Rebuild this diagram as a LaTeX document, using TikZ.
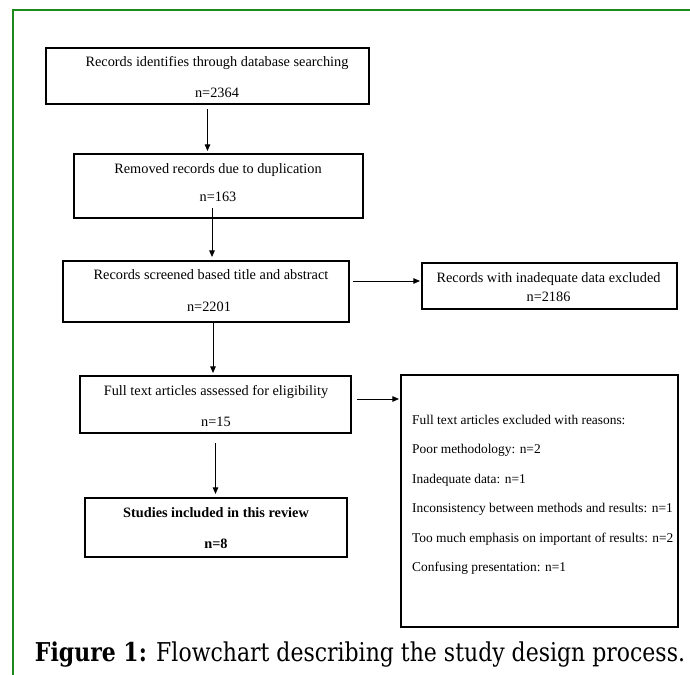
\documentclass[tikz,border=0pt]{standalone}
\usepackage{fontspec}
\setmainfont{Liberation Serif}
\newfontfamily\capfont{DejaVu Serif}
\usetikzlibrary{arrows.meta}
\definecolor{framegreen}{RGB}{28,138,28}
\tikzset{
  box/.style={draw=black, line width=2.1pt, inner sep=0pt},
  txt/.style={anchor=base, inner sep=0pt, font=\fontsize{14.3}{16}\selectfont},
  rtxt/.style={anchor=base west, inner sep=0pt, font=\fontsize{13.4}{15}\selectfont},
  arr/.style={line width=0.8pt, -{Triangle[length=6.5pt,width=5.5pt]}},
  frameline/.style={draw=framegreen, line width=2.8pt}
}
\begin{document}
\begin{tikzpicture}[x=1pt,y=-1pt]
\useasboundingbox (0,0) rectangle (690,674);
\draw[frameline] (13,676) -- (13,10) -- (692,10);

% boxes
\node[box, minimum width=323pt, minimum height=56pt] (b1) at (207.5,76) {};
\node[box, minimum width=289pt, minimum height=64pt] (b2) at (218.5,186) {};
\node[box, minimum width=286pt, minimum height=61pt] (b3) at (206,291.5) {};
\node[box, minimum width=271pt, minimum height=57pt] (b4) at (215.5,404.5) {};
\node[box, minimum width=262pt, minimum height=59pt] (b5) at (216,527.5) {};
\node[box, minimum width=255pt, minimum height=46pt] (b6) at (549.5,286) {};
\node[box, minimum width=277pt, minimum height=252pt] (b7) at (539.5,501) {};

% texts
\node[txt] (t1a) at (217,66.5) {Records identifies through database searching};
\node[txt] (t1b) at (217,97.5) {n=2364};
\node[txt] (t2a) at (218,173.5) {Removed records due to duplication};
\node[txt] (t2b) at (218,201.5) {n=163};
\node[txt] (t3a) at (211,279.5) {Records screened based title and abstract};
\node[txt] (t3b) at (209,311.5) {n=2201};
\node[txt] (t4a) at (216,395.5) {Full text articles assessed for eligibility};
\node[txt] (t4b) at (216,426.5) {n=15};
\node[txt, font=\fontsize{14.3}{16}\selectfont\bfseries] (t5a) at (216,517.5) {Studies included in this review};
\node[txt, font=\fontsize{14.3}{16}\selectfont\bfseries] (t5b) at (216,548.5) {n=8};
\node[txt] (t6a) at (548.5,282.5) {Records with inadequate data excluded};
\node[txt] (t6b) at (548.5,301.5) {n=2186};
\node[rtxt] (r1) at (412,424) {Full text articles excluded with reasons:};
\node[rtxt] (r2) at (412,453.5) {Poor methodology: n=2};
\node[rtxt] (r3) at (412,483) {Inadequate data: n=1};
\node[rtxt] (r4) at (412,512.5) {Inconsistency between methods and results: n=1};
\node[rtxt] (r5) at (412,542) {Too much emphasis on important of results: n=2};
\node[rtxt] (r6) at (412,571.5) {Confusing presentation: n=1};

% connectors
\draw[arr, shorten <=4pt, shorten >=2pt] (b1.south) -- (b1.south |- b2.north);
\draw[arr, shorten >=3pt] ([shift={(-6.5,-11)}]b2.south) -- ([xshift=-6.5pt]b2.south |- b3.north);
\draw[arr, shorten >=2pt] ([xshift=7pt]b3.south) -- ([xshift=7pt]b3.south |- b4.north);
\draw[arr, shorten <=9pt, shorten >=3pt] (b4.south) -- (b4.south |- b5.north);
\draw[arr, shorten <=3pt, shorten >=1pt] ([yshift=10.5pt]b3.east) -- ([yshift=10.5pt]b3.east -| b6.west);
\draw[arr, shorten <=5pt, shorten >=1pt] ([yshift=5.5pt]b4.east) -- ([yshift=5.5pt]b4.east -| b7.west);

% caption
\node[anchor=base, inner sep=0pt] (cap) at (360,661) {\resizebox{650pt}{!}{\scalebox{1}[1.18]{\capfont\textbf{Figure 1:} Flowchart describing the study design process.}}};
\end{tikzpicture}
\end{document}
